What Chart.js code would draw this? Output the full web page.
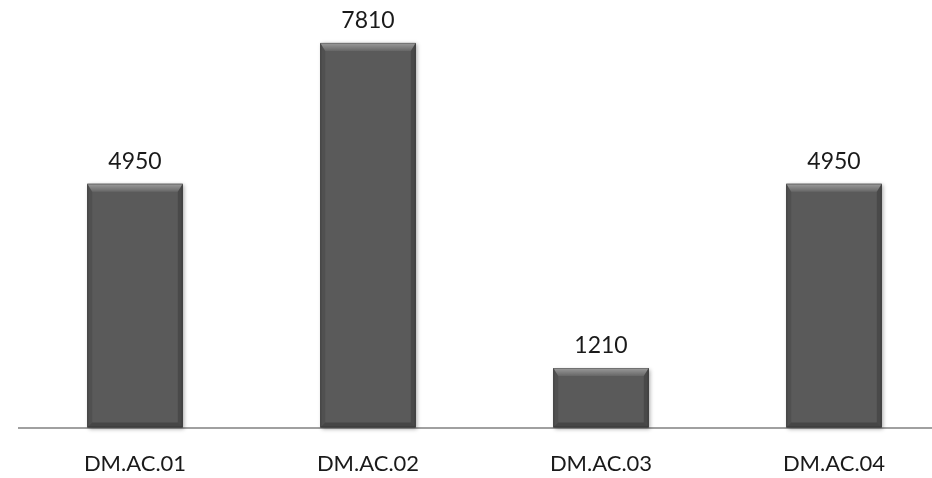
<!DOCTYPE html>
<html>
<head>
<meta charset="utf-8">
<script src="https://cdn.jsdelivr.net/npm/chart.js@4/dist/chart.umd.min.js"></script>
<style>
  html, body { margin: 0; padding: 0; background: #fff; overflow: hidden; }
  #wrap { width: 952px; height: 500px; }
</style>
</head>
<body>
<div id="wrap"><canvas id="bar-chart" width="952" height="500"></canvas></div>
<script>
// data
const categories = ["DM.AC.01", "DM.AC.02", "DM.AC.03", "DM.AC.04"];
const values = [4950, 7810, 1210, 4950];
const yMax = 8600;

const FONT = "Lato, 'Liberation Sans', sans-serif";

// soft shadow behind each bar
const barShadow = {
  id: 'barShadow',
  beforeDatasetsDraw(chart) {
    const ctx = chart.ctx;
    chart.getDatasetMeta(0).data.forEach(bar => {
      const p = bar.getProps(['x', 'y', 'base', 'width'], true);
      const l = p.x - p.width / 2;
      ctx.save();
      ctx.shadowColor = 'rgba(0,0,0,0.35)';
      ctx.shadowBlur = 4;
      ctx.shadowOffsetX = 1.5;
      ctx.shadowOffsetY = 1.5;
      ctx.fillStyle = '#5a5a5a';
      ctx.fillRect(l, p.y, p.width, p.base - p.y);
      ctx.restore();
    });
  }
};

// bevel edges and value labels
const barBevel = {
  id: 'barBevel',
  afterDatasetsDraw(chart) {
    const ctx = chart.ctx;
    const meta = chart.getDatasetMeta(0);
    meta.data.forEach((bar, i) => {
      const p = bar.getProps(['x', 'y', 'base', 'width'], true);
      const l = p.x - p.width / 2, r = p.x + p.width / 2;
      const t = p.y, b = p.base;
      const bt = 8, bs = 5;
      ctx.save();
      // top
      let g = ctx.createLinearGradient(0, t, 0, t + bt);
      g.addColorStop(0, 'rgba(255,255,255,0.40)');
      g.addColorStop(1, 'rgba(255,255,255,0.08)');
      ctx.fillStyle = g;
      ctx.beginPath();
      ctx.moveTo(l, t); ctx.lineTo(r, t); ctx.lineTo(r - bs, t + bt); ctx.lineTo(l + bs, t + bt);
      ctx.closePath(); ctx.fill();
      // left
      ctx.fillStyle = 'rgba(0,0,0,0.10)';
      ctx.beginPath();
      ctx.moveTo(l, t); ctx.lineTo(l + bs, t + bt); ctx.lineTo(l + bs, b - bs); ctx.lineTo(l, b);
      ctx.closePath(); ctx.fill();
      // right
      ctx.fillStyle = 'rgba(0,0,0,0.18)';
      ctx.beginPath();
      ctx.moveTo(r, t); ctx.lineTo(r - bs, t + bt); ctx.lineTo(r - bs, b - bs); ctx.lineTo(r, b);
      ctx.closePath(); ctx.fill();
      // bottom
      ctx.fillStyle = 'rgba(0,0,0,0.22)';
      ctx.beginPath();
      ctx.moveTo(l, b); ctx.lineTo(l + bs, b - bs); ctx.lineTo(r - bs, b - bs); ctx.lineTo(r, b);
      ctx.closePath(); ctx.fill();
      // outline
      ctx.strokeStyle = 'rgba(0,0,0,0.25)';
      ctx.lineWidth = 1;
      ctx.strokeRect(l + 0.5, t + 0.5, p.width - 1, b - t - 1);

      // value label
      ctx.fillStyle = '#1a1a1a';
      ctx.font = "23px " + FONT;
      ctx.textAlign = 'center';
      ctx.textBaseline = 'middle';
      ctx.fillText(String(values[i]), p.x, t - 22);
      ctx.restore();
    });
  }
};

new Chart(document.getElementById("bar-chart"), {
  type: 'bar',
  data: {
    labels: categories,
    datasets: [{
      data: values,
      backgroundColor: '#5a5a5a',
      borderWidth: 0,
      barPercentage: 0.41,
      categoryPercentage: 1.0
    }]
  },
  options: {
    responsive: false,
    animation: false,
    events: [],
    layout: { padding: { left: 18.5, right: 1.5, top: 4, bottom: 0 } },
    plugins: {
      legend: { display: false },
      tooltip: { enabled: false },
      title: { display: false }
    },
    scales: {
      x: {
        grid: { display: false, drawTicks: false },
        border: { display: true, color: '#a0a0a0', width: 2 },
        ticks: {
          padding: 23,
          color: '#1a1a1a',
          font: { family: FONT, size: 22 }
        }
      },
      y: {
        display: false,
        min: 0,
        max: yMax
      }
    }
  },
  plugins: [barShadow, barBevel]
});
</script>
</body>
</html>
